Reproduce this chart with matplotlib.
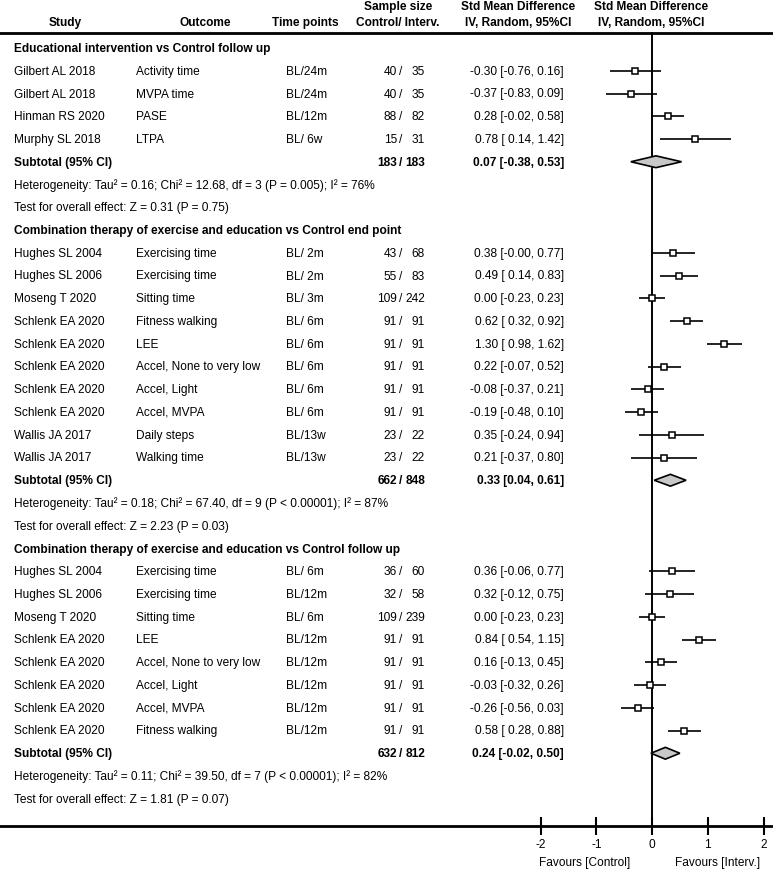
import matplotlib
matplotlib.use("Agg")
import matplotlib.pyplot as plt
from matplotlib.patches import Polygon

# ---------------- data ----------------
section_titles = [
    "Educational intervention vs Control follow up",
    "Combination therapy of exercise and education vs Control end point",
    "Combination therapy of exercise and education vs Control follow up",
]

s1_study = ["Gilbert AL 2018", "Gilbert AL 2018", "Hinman RS 2020", "Murphy SL 2018"]
s1_outcome = ["Activity time", "MVPA time", "PASE", "LTPA"]
s1_time = ["BL/24m", "BL/24m", "BL/12m", "BL/ 6w"]
s1_nc = [40, 40, 88, 15]
s1_ni = [35, 35, 82, 31]
s1_smd = [-0.30, -0.37, 0.28, 0.78]
s1_lo = [-0.76, -0.83, -0.02, 0.14]
s1_hi = [0.16, 0.09, 0.58, 1.42]

s2_study = ["Hughes SL 2004", "Hughes SL 2006", "Moseng T 2020", "Schlenk EA 2020",
            "Schlenk EA 2020", "Schlenk EA 2020", "Schlenk EA 2020", "Schlenk EA 2020",
            "Wallis JA 2017", "Wallis JA 2017"]
s2_outcome = ["Exercising time", "Exercising time", "Sitting time", "Fitness walking",
              "LEE", "Accel, None to very low", "Accel, Light", "Accel, MVPA",
              "Daily steps", "Walking time"]
s2_time = ["BL/ 2m", "BL/ 2m", "BL/ 3m", "BL/ 6m", "BL/ 6m", "BL/ 6m", "BL/ 6m",
           "BL/ 6m", "BL/13w", "BL/13w"]
s2_nc = [43, 55, 109, 91, 91, 91, 91, 91, 23, 23]
s2_ni = [68, 83, 242, 91, 91, 91, 91, 91, 22, 22]
s2_smd = [0.38, 0.49, 0.00, 0.62, 1.30, 0.22, -0.08, -0.19, 0.35, 0.21]
s2_lo = [-0.00, 0.14, -0.23, 0.32, 0.98, -0.07, -0.37, -0.48, -0.24, -0.37]
s2_hi = [0.77, 0.83, 0.23, 0.92, 1.62, 0.52, 0.21, 0.10, 0.94, 0.80]

s3_study = ["Hughes SL 2004", "Hughes SL 2006", "Moseng T 2020", "Schlenk EA 2020",
            "Schlenk EA 2020", "Schlenk EA 2020", "Schlenk EA 2020", "Schlenk EA 2020"]
s3_outcome = ["Exercising time", "Exercising time", "Sitting time", "LEE",
              "Accel, None to very low", "Accel, Light", "Accel, MVPA", "Fitness walking"]
s3_time = ["BL/ 6m", "BL/12m", "BL/ 6m", "BL/12m", "BL/12m", "BL/12m", "BL/12m", "BL/12m"]
s3_nc = [36, 32, 109, 91, 91, 91, 91, 91]
s3_ni = [60, 58, 239, 91, 91, 91, 91, 91]
s3_smd = [0.36, 0.32, 0.00, 0.84, 0.16, -0.03, -0.26, 0.58]
s3_lo = [-0.06, -0.12, -0.23, 0.54, -0.13, -0.32, -0.56, 0.28]
s3_hi = [0.77, 0.75, 0.23, 1.15, 0.45, 0.26, 0.03, 0.88]

sub_nc = [183, 662, 632]
sub_ni = [183, 848, 812]
sub_smd = [0.07, 0.33, 0.24]
sub_lo = [-0.38, 0.04, -0.02]
sub_hi = [0.53, 0.61, 0.50]

het_text = [
    "Heterogeneity: Tau\u00b2 = 0.16; Chi\u00b2 = 12.68, df = 3 (P = 0.005); I\u00b2 = 76%",
    "Heterogeneity: Tau\u00b2 = 0.18; Chi\u00b2 = 67.40, df = 9 (P < 0.00001); I\u00b2 = 87%",
    "Heterogeneity: Tau\u00b2 = 0.11; Chi\u00b2 = 39.50, df = 7 (P < 0.00001); I\u00b2 = 82%",
]
test_text = [
    "Test for overall effect: Z = 0.31 (P = 0.75)",
    "Test for overall effect: Z = 2.23 (P = 0.03)",
    "Test for overall effect: Z = 1.81 (P = 0.07)",
]

x_ticks = [-2, -1, 0, 1, 2]
x_tick_labels = ["-2", "-1", "0", "1", "2"]
favours_left = "Favours [Control]"
favours_right = "Favours [Interv.]"

sections = [
    (s1_study, s1_outcome, s1_time, s1_nc, s1_ni, s1_smd, s1_lo, s1_hi),
    (s2_study, s2_outcome, s2_time, s2_nc, s2_ni, s2_smd, s2_lo, s2_hi),
    (s3_study, s3_outcome, s3_time, s3_nc, s3_ni, s3_smd, s3_lo, s3_hi),
]

# ---------------- layout ----------------
W, H = 773, 870
plt.rcParams["font.family"] = ["Liberation Sans", "DejaVu Sans"]
FS = 8.6

fig = plt.figure(figsize=(W / 100, H / 100), dpi=100)

Y0, DY = 49.0, 22.75          # pixel y of row 0, row spacing in px
def ry(px):
    return (px - Y0) / DY

X0, DX = 652.0, 55.75         # pixel x of SMD 0, px per SMD unit
ylim = (ry(H), ry(0))

fx = fig.add_axes([0, 0, 1, 1])
fx.set_xlim((0 - X0) / DX, (W - X0) / DX)
fx.set_ylim(*ylim)

ax = fig.add_axes([0, 0, 1, 1])
ax.set_xlim(0, W)
ax.set_ylim(*ylim)
ax.axis("off")
ax.patch.set_visible(False)

# spines: header line at top, axis line at bottom
y_head_line = ry(33.5)
y_axis_line = ry(827)
fx.spines["left"].set_visible(False)
fx.spines["right"].set_visible(False)
fx.spines["top"].set_position(("data", y_head_line))
fx.spines["bottom"].set_position(("data", y_axis_line))
fx.spines["top"].set_linewidth(2.0)
fx.spines["bottom"].set_linewidth(2.0)
fx.set_yticks([])
fx.set_xticks(x_ticks)
fx.set_xticklabels(x_tick_labels)
fx.tick_params(axis="x", which="both", bottom=True, top=False, direction="inout",
               length=13, width=1.5, pad=2, labelsize=FS, colors="black")

# zero line
fx.plot([0, 0], [y_head_line, y_axis_line], color="black", lw=1.4, zorder=2)

# column x positions (px)
X_STUDY, X_OUT, X_TIME = 14, 136, 286
X_NC, X_SLASH, X_NI = 397, 401, 425
X_SMD = 564

# headers
hb = dict(fontsize=FS, fontweight="bold", ha="center", va="center")
ax.text(65, ry(23), "Study", **hb)
ax.text(205, ry(23), "Outcome", **hb)
ax.text(305, ry(23), "Time points", **hb)
ax.text(398, ry(7), "Sample size", **hb)
ax.text(398, ry(23), "Control/ Interv.", **hb)
ax.text(518, ry(7), "Std Mean Difference", **hb)
ax.text(518, ry(23), "IV, Random, 95%CI", **hb)
ax.text(651, ry(7), "Std Mean Difference", **hb)
ax.text(651, ry(23), "IV, Random, 95%CI", **hb)

tx = dict(fontsize=FS, va="center")
r = 0
for si, (st, oc, tp, nc, ni, m, lo, hi) in enumerate(sections):
    ax.text(X_STUDY, r, section_titles[si], fontweight="bold", ha="left", **tx)
    r += 1
    for k in range(len(st)):
        ax.text(X_STUDY, r, st[k], ha="left", **tx)
        ax.text(X_OUT, r, oc[k], ha="left", **tx)
        ax.text(X_TIME, r, tp[k], ha="left", **tx)
        ax.text(X_NC, r, f"{nc[k]}", ha="right", **tx)
        ax.text(X_SLASH, r, "/", ha="center", **tx)
        ax.text(X_NI, r, f"{ni[k]}", ha="right", **tx)
        ax.text(X_SMD, r, f"{m[k]:.2f} [{lo[k]:5.2f}, {hi[k]:.2f}]", ha="right", **tx)
        fx.hlines(r, lo[k], hi[k], color="black", lw=1.2, zorder=3)
        fx.plot([m[k]], [r], "s", ms=3.8, mfc="white", mec="black", mew=1.1, zorder=4)
        r += 1
    # subtotal
    ax.text(X_STUDY, r, "Subtotal (95% CI)", fontweight="bold", ha="left", **tx)
    ax.text(X_NC, r, f"{sub_nc[si]}", fontweight="bold", ha="right", **tx)
    ax.text(X_SLASH, r, "/", fontweight="bold", ha="center", **tx)
    ax.text(X_NI, r, f"{sub_ni[si]}", fontweight="bold", ha="right", **tx)
    ax.text(X_SMD, r, f"{sub_smd[si]:.2f} [{sub_lo[si]:.2f}, {sub_hi[si]:.2f}]",
            fontweight="bold", ha="right", **tx)
    h = 0.26
    dia = Polygon([(sub_lo[si], r), (sub_smd[si], r - h), (sub_hi[si], r), (sub_smd[si], r + h)],
                  closed=True, facecolor="#c8c8c8", edgecolor="black", lw=1.2, zorder=4)
    fx.add_patch(dia)
    r += 1
    ax.text(X_STUDY, r, het_text[si], ha="left", **tx)
    r += 1
    ax.text(X_STUDY, r, test_text[si], ha="left", **tx)
    r += 1

ax.text(630, ry(863), favours_left, ha="right", **tx)
ax.text(675, ry(863), favours_right, ha="left", **tx)

fig.savefig("out.png", dpi=100)
